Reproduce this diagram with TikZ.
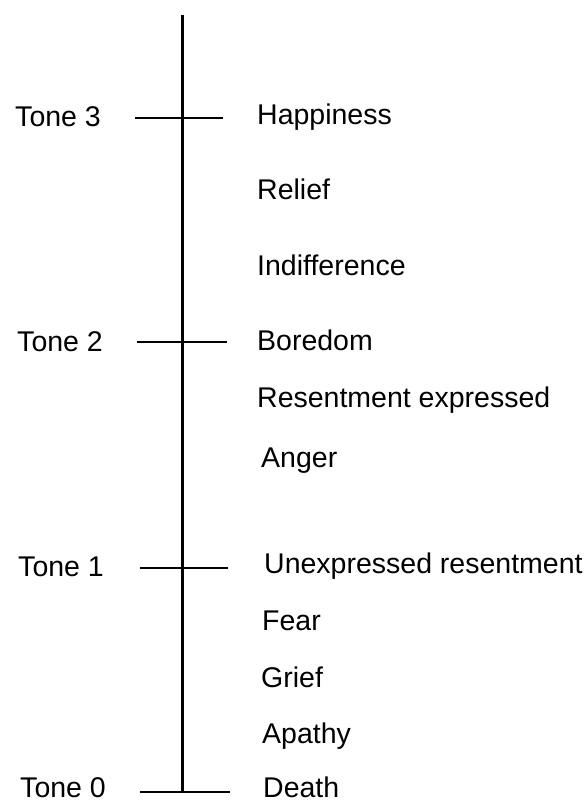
\documentclass[tikz,border=0pt]{standalone}
\usepackage{fontspec}
\setmainfont{Liberation Sans}
\begin{document}
\begin{tikzpicture}[x=1pt, y=-1pt,
    tonelabel/.style={anchor=base east, inner sep=0pt, font=\fontsize{28.5}{32}\selectfont},
    feeling/.style={anchor=base west, inner sep=0pt, font=\fontsize{28.5}{32}\selectfont},
    toneline/.style={line width=2pt}]
    \useasboundingbox (0,0) rectangle (586,802);

    % Skala
    \coordinate (top) at (182,15);
    \coordinate (bot) at (182,792);
    \draw[line width=3pt] (top) -- (bot);

    % Tone-Stufen links
    \node[tonelabel] (tone3) at (101,127) {Tone 3};
    \node[tonelabel] (tone2) at (103,351) {Tone 2};
    \node[tonelabel] (tone1) at (104,576) {Tone 1};
    \node[tonelabel] (tone0) at (106,797) {Tone 0};
    \coordinate (t3a) at (135,118);  \coordinate (t3b) at (223,118);
    \coordinate (t2a) at (137,342);  \coordinate (t2b) at (227,342);
    \coordinate (t1a) at (140,568);  \coordinate (t1b) at (228,568);
    \coordinate (t0a) at (140,792);  \coordinate (t0b) at (230,792);
    \draw[toneline] (t3a) -- (t3b);
    \draw[toneline] (t2a) -- (t2b);
    \draw[toneline] (t1a) -- (t1b);
    \draw[toneline] (t0a) -- (t0b);

    % Gefuehle rechts
    \node[feeling] (happy) at (257,125) {Happiness};
    \node[feeling] (relief) at (257,200) {Relief};
    \node[feeling] (indiff) at (257,275) {Indifference};
    \node[feeling] (bored) at (257,350) {Boredom};
    \node[feeling] (resexp) at (257,407) {Resentment expressed};
    \node[feeling] (anger) at (261,467) {Anger};
    \node[feeling] (unexp) at (264,573) {Unexpressed resentment};
    \node[feeling] (fear) at (262,630) {Fear};
    \node[feeling] (grief) at (261,687) {Grief};
    \node[feeling] (apathy) at (262,743) {Apathy};
    \node[feeling] (death) at (263,797) {Death};
\end{tikzpicture}
\end{document}
